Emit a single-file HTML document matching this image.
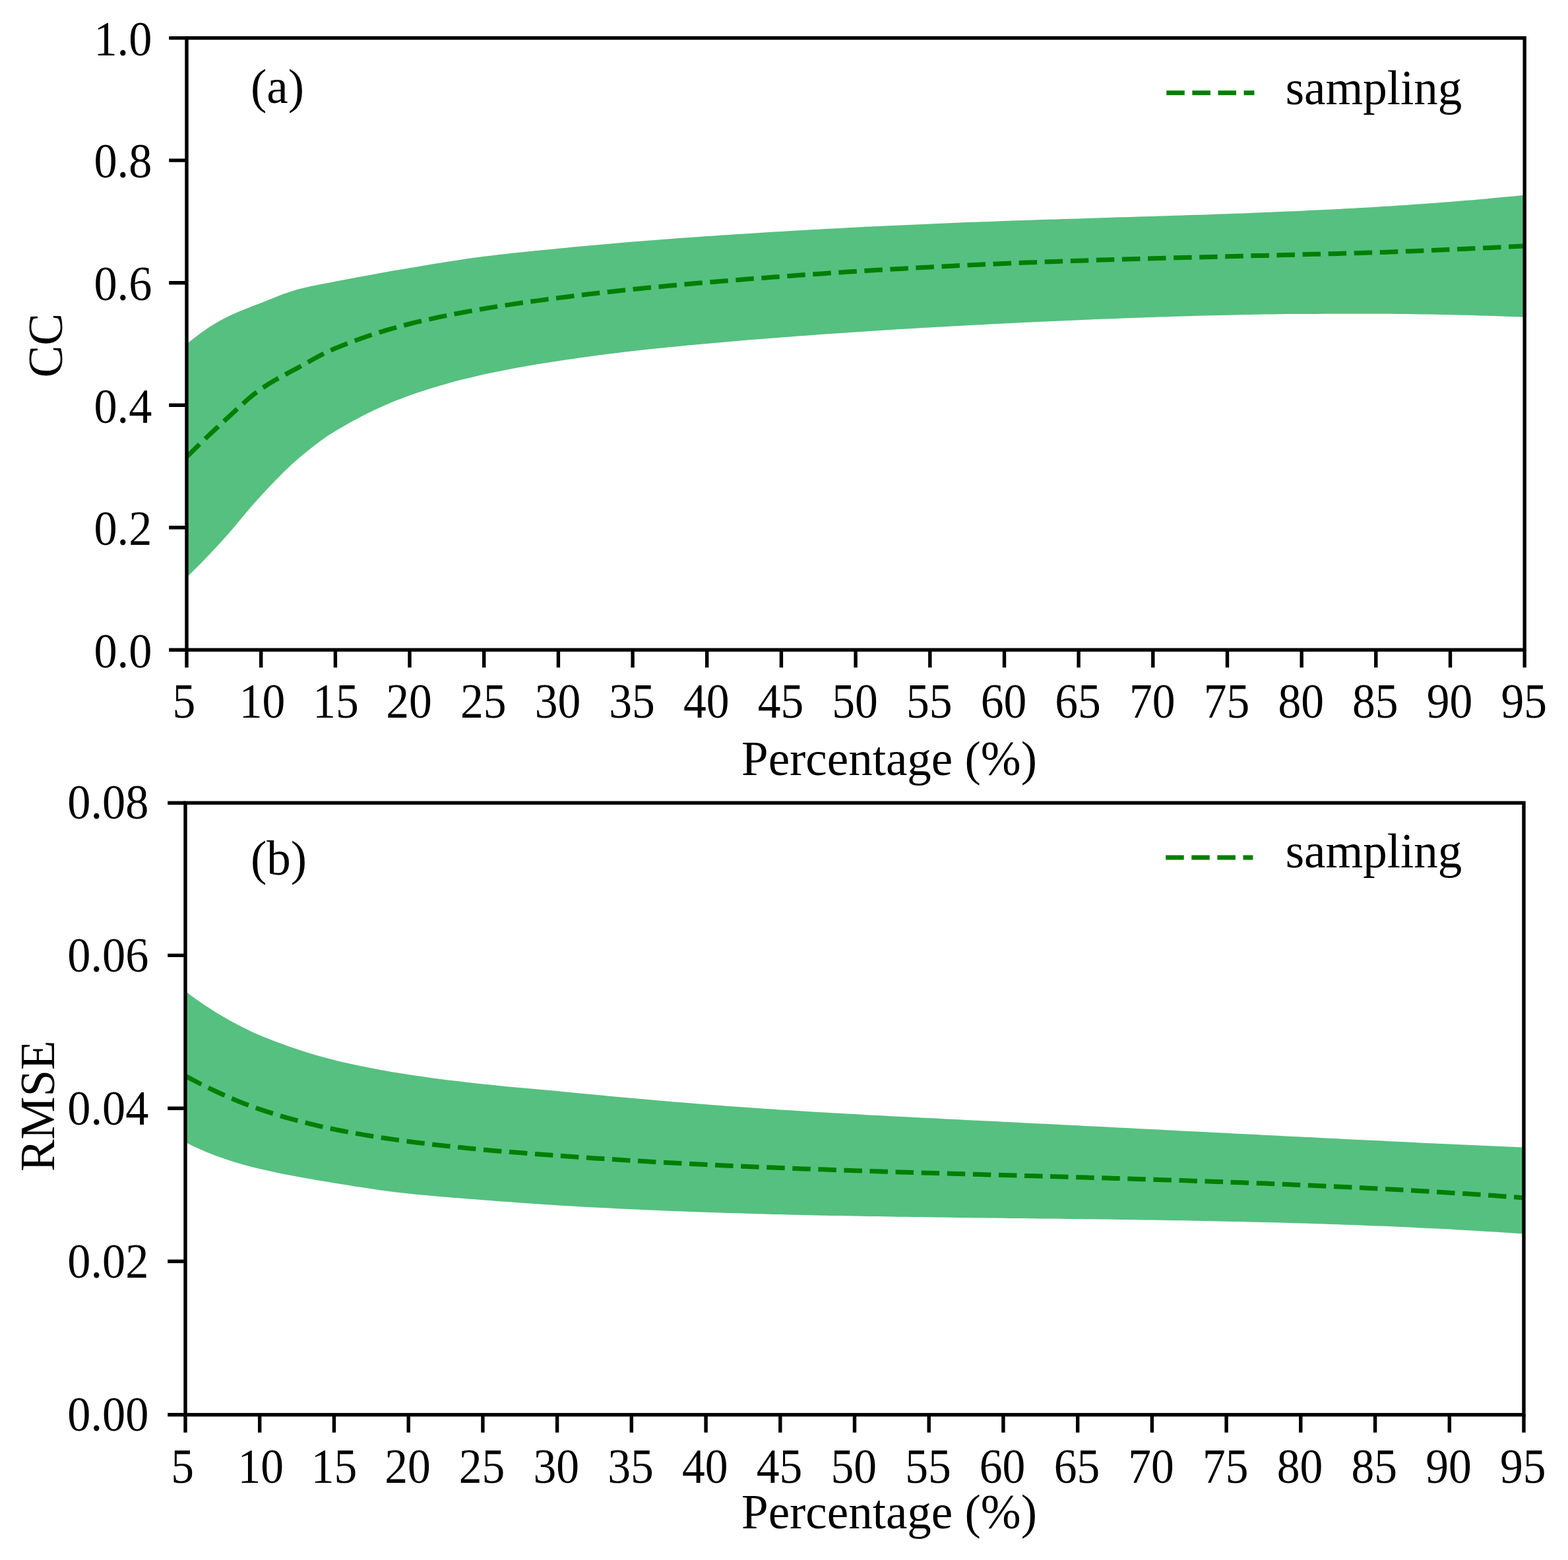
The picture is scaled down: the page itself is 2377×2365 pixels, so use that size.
<!DOCTYPE html>
<html lang="en">
<head>
<meta charset="utf-8">
<title>Sampling percentage vs CC and RMSE</title>
<style>
html,body{margin:0;padding:0;background:#fff;width:2377px;height:2365px;overflow:hidden}
svg{display:block;position:absolute;left:0;top:0}
text{font-family:"Liberation Serif", "DejaVu Serif", serif;fill:#000}
</style>
</head>
<body>
<svg xmlns="http://www.w3.org/2000/svg" width="2377" height="2365" viewBox="0 0 2377 2365">
<rect width="2377" height="2365" fill="#fff"/>
<clipPath id="c1"><rect x="283" y="57.6" width="2028.2" height="927.6"/></clipPath>
<g clip-path="url(#c1)">
<polygon fill="#56c080" points="283,521.4 294.3,512.5 305.5,504.1 316.8,496.3 328.1,489.2 339.3,482.9 350.6,477.4 361.9,472.5 373.1,467.9 384.4,463.6 395.7,459.2 406.9,454.7 418.2,450.2 429.5,445.8 440.7,441.9 452,438.5 463.3,435.7 474.6,433.3 485.8,431.1 497.1,428.9 508.4,426.8 519.6,424.6 530.9,422.5 542.2,420.3 553.4,418.2 564.7,416.2 576,414.1 587.2,412.1 598.5,410.1 609.8,408.2 621,406.3 632.3,404.4 643.6,402.5 654.8,400.6 666.1,398.8 677.4,396.9 688.6,395.2 699.9,393.5 711.2,391.8 722.4,390.2 733.7,388.8 745,387.4 756.2,386.1 767.5,384.8 778.8,383.6 790,382.4 801.3,381.2 812.6,380.1 823.9,379 835.1,377.9 846.4,376.8 857.7,375.7 868.9,374.6 880.2,373.6 891.5,372.5 902.7,371.5 914,370.4 925.3,369.4 936.5,368.5 947.8,367.5 959.1,366.6 970.3,365.7 981.6,364.8 992.9,363.9 1004.1,363 1015.4,362.2 1026.7,361.3 1037.9,360.5 1049.2,359.7 1060.5,358.9 1071.7,358.1 1083,357.4 1094.3,356.6 1105.5,355.9 1116.8,355.1 1128.1,354.4 1139.4,353.7 1150.6,353 1161.9,352.3 1173.2,351.6 1184.4,350.9 1195.7,350.2 1207,349.6 1218.2,348.9 1229.5,348.3 1240.8,347.7 1252,347.1 1263.3,346.5 1274.6,345.9 1285.8,345.3 1297.1,344.7 1308.4,344.1 1319.6,343.6 1330.9,343 1342.2,342.5 1353.4,342 1364.7,341.4 1376,340.9 1387.2,340.4 1398.5,339.9 1409.8,339.4 1421,339 1432.3,338.5 1443.6,338 1454.8,337.6 1466.1,337.1 1477.4,336.7 1488.7,336.3 1499.9,335.9 1511.2,335.5 1522.5,335 1533.7,334.6 1545,334.3 1556.3,333.9 1567.5,333.5 1578.8,333.1 1590.1,332.8 1601.3,332.4 1612.6,332.1 1623.9,331.7 1635.1,331.4 1646.4,331 1657.7,330.7 1668.9,330.3 1680.2,330 1691.5,329.6 1702.7,329.3 1714,329 1725.3,328.6 1736.5,328.3 1747.8,327.9 1759.1,327.6 1770.3,327.2 1781.6,326.8 1792.9,326.5 1804.1,326.1 1815.4,325.8 1826.7,325.4 1838,325 1849.2,324.6 1860.5,324.2 1871.8,323.8 1883,323.4 1894.3,322.9 1905.6,322.5 1916.8,322.1 1928.1,321.6 1939.4,321.1 1950.6,320.6 1961.9,320.2 1973.2,319.7 1984.4,319.1 1995.7,318.6 2007,318 2018.2,317.5 2029.5,316.9 2040.8,316.3 2052,315.7 2063.3,315.1 2074.6,314.4 2085.8,313.8 2097.1,313.1 2108.4,312.4 2119.6,311.6 2130.9,310.9 2142.2,310.1 2153.5,309.3 2164.7,308.5 2176,307.7 2187.3,306.8 2198.5,306 2209.8,305.1 2221.1,304.1 2232.3,303.2 2243.6,302.2 2254.9,301.2 2266.1,300.1 2277.4,299.1 2288.7,298 2299.9,296.9 2311.2,295.8 2311.2,480.8 2299.9,480.3 2288.7,479.9 2277.4,479.5 2266.1,479.1 2254.9,478.7 2243.6,478.4 2232.3,478.1 2221.1,477.8 2209.8,477.5 2198.5,477.3 2187.3,477 2176,476.8 2164.7,476.6 2153.5,476.4 2142.2,476.2 2130.9,476.1 2119.6,475.9 2108.4,475.8 2097.1,475.7 2085.8,475.7 2074.6,475.7 2063.3,475.7 2052,475.7 2040.8,475.8 2029.5,475.8 2018.2,475.8 2007,475.8 1995.7,475.9 1984.4,475.9 1973.2,476 1961.9,476 1950.6,476.1 1939.4,476.3 1928.1,476.4 1916.8,476.6 1905.6,476.8 1894.3,477.1 1883,477.3 1871.8,477.5 1860.5,477.7 1849.2,478 1838,478.3 1826.7,478.5 1815.4,478.8 1804.1,479.2 1792.9,479.5 1781.6,479.8 1770.3,480.2 1759.1,480.5 1747.8,480.9 1736.5,481.3 1725.3,481.7 1714,482.1 1702.7,482.5 1691.5,482.9 1680.2,483.4 1668.9,483.8 1657.7,484.3 1646.4,484.7 1635.1,485.2 1623.9,485.7 1612.6,486.2 1601.3,486.7 1590.1,487.2 1578.8,487.7 1567.5,488.2 1556.3,488.8 1545,489.3 1533.7,489.9 1522.5,490.4 1511.2,491 1499.9,491.6 1488.7,492.2 1477.4,492.7 1466.1,493.3 1454.8,493.9 1443.6,494.6 1432.3,495.2 1421,495.8 1409.8,496.5 1398.5,497.1 1387.2,497.8 1376,498.4 1364.7,499.1 1353.4,499.8 1342.2,500.5 1330.9,501.2 1319.6,502 1308.4,502.7 1297.1,503.4 1285.8,504.2 1274.6,505 1263.3,505.7 1252,506.5 1240.8,507.3 1229.5,508.2 1218.2,509 1207,509.8 1195.7,510.7 1184.4,511.5 1173.2,512.4 1161.9,513.3 1150.6,514.2 1139.4,515.1 1128.1,516.1 1116.8,517 1105.5,518 1094.3,519 1083,520 1071.7,521 1060.5,522 1049.2,523.1 1037.9,524.1 1026.7,525.2 1015.4,526.3 1004.1,527.5 992.9,528.6 981.6,529.8 970.3,531 959.1,532.3 947.8,533.6 936.5,535 925.3,536.3 914,537.8 902.7,539.2 891.5,540.8 880.2,542.3 868.9,543.9 857.7,545.6 846.4,547.3 835.1,549 823.9,550.8 812.6,552.6 801.3,554.5 790,556.5 778.8,558.5 767.5,560.7 756.2,562.9 745,565.2 733.7,567.6 722.4,570.2 711.2,572.9 699.9,575.6 688.6,578.6 677.4,581.7 666.1,584.9 654.8,588.3 643.6,591.9 632.3,595.6 621,599.5 609.8,603.7 598.5,608.1 587.2,612.8 576,617.8 564.7,623.1 553.4,628.6 542.2,634.5 530.9,640.5 519.6,646.9 508.4,653.5 497.1,660.6 485.8,668.5 474.6,677 463.3,686.1 452,695.5 440.7,705.5 429.5,716.3 418.2,727.7 406.9,739.5 395.7,751.5 384.4,764.1 373.1,777.3 361.9,790.8 350.6,804.2 339.3,817 328.1,829.2 316.8,841.2 305.5,852.9 294.3,864.3 283,875.4"/>
<polyline fill="none" stroke="#008000" stroke-width="7.0" stroke-dasharray="27.5 11.6" stroke-dashoffset="0" points="283,692.7 294.3,681.5 305.5,670.5 316.8,659.7 328.1,649.1 339.3,638.7 350.6,628.3 361.9,617.8 373.1,607.6 384.4,598.1 395.7,589.7 406.9,582.3 418.2,575.6 429.5,569.4 440.7,563.4 452,557.3 463.3,551.1 474.6,544.8 485.8,538.7 497.1,533 508.4,528 519.6,523.5 530.9,519.1 542.2,515 553.4,511 564.7,507.2 576,503.6 587.2,500.2 598.5,497 609.8,493.9 621,491 632.3,488.2 643.6,485.6 654.8,483.1 666.1,480.7 677.4,478.4 688.6,476.1 699.9,474 711.2,471.9 722.4,469.9 733.7,468 745,466.1 756.2,464.3 767.5,462.6 778.8,460.9 790,459.2 801.3,457.6 812.6,456.1 823.9,454.6 835.1,453.1 846.4,451.6 857.7,450.2 868.9,448.8 880.2,447.4 891.5,446 902.7,444.7 914,443.4 925.3,442.2 936.5,441 947.8,439.8 959.1,438.6 970.3,437.4 981.6,436.3 992.9,435.2 1004.1,434.2 1015.4,433.1 1026.7,432.1 1037.9,431.1 1049.2,430.1 1060.5,429.1 1071.7,428.1 1083,427.2 1094.3,426.2 1105.5,425.3 1116.8,424.4 1128.1,423.5 1139.4,422.6 1150.6,421.7 1161.9,420.9 1173.2,420 1184.4,419.2 1195.7,418.4 1207,417.5 1218.2,416.7 1229.5,415.9 1240.8,415.2 1252,414.4 1263.3,413.6 1274.6,412.9 1285.8,412.1 1297.1,411.4 1308.4,410.7 1319.6,410 1330.9,409.3 1342.2,408.7 1353.4,408 1364.7,407.4 1376,406.7 1387.2,406.1 1398.5,405.5 1409.8,404.9 1421,404.3 1432.3,403.7 1443.6,403.2 1454.8,402.6 1466.1,402.1 1477.4,401.5 1488.7,401 1499.9,400.5 1511.2,400 1522.5,399.5 1533.7,399 1545,398.6 1556.3,398.1 1567.5,397.7 1578.8,397.3 1590.1,396.8 1601.3,396.4 1612.6,396 1623.9,395.6 1635.1,395.2 1646.4,394.9 1657.7,394.5 1668.9,394.1 1680.2,393.8 1691.5,393.4 1702.7,393.1 1714,392.8 1725.3,392.4 1736.5,392.1 1747.8,391.8 1759.1,391.5 1770.3,391.1 1781.6,390.8 1792.9,390.5 1804.1,390.2 1815.4,390 1826.7,389.7 1838,389.4 1849.2,389.1 1860.5,388.8 1871.8,388.5 1883,388.2 1894.3,387.9 1905.6,387.6 1916.8,387.4 1928.1,387.1 1939.4,386.8 1950.6,386.5 1961.9,386.2 1973.2,385.9 1984.4,385.6 1995.7,385.3 2007,385 2018.2,384.7 2029.5,384.4 2040.8,384.1 2052,383.8 2063.3,383.5 2074.6,383.1 2085.8,382.8 2097.1,382.4 2108.4,382 2119.6,381.6 2130.9,381.1 2142.2,380.7 2153.5,380.2 2164.7,379.8 2176,379.3 2187.3,378.8 2198.5,378.3 2209.8,377.8 2221.1,377.3 2232.3,376.8 2243.6,376.3 2254.9,375.8 2266.1,375.2 2277.4,374.7 2288.7,374.1 2299.9,373.6 2311.2,373"/>
</g>
<path d="M283 985.2V1012M395.7 985.2V1012M508.4 985.2V1012M621 985.2V1012M733.7 985.2V1012M846.4 985.2V1012M959.1 985.2V1012M1071.7 985.2V1012M1184.4 985.2V1012M1297.1 985.2V1012M1409.8 985.2V1012M1522.5 985.2V1012M1635.1 985.2V1012M1747.8 985.2V1012M1860.5 985.2V1012M1973.2 985.2V1012M2085.8 985.2V1012M2198.5 985.2V1012M2311.2 985.2V1012M283 985.2H256.2M283 799.7H256.2M283 614.2H256.2M283 428.7H256.2M283 243.1H256.2M283 57.6H256.2" fill="none" stroke="#000" stroke-width="5.4"/>
<rect x="283" y="57.6" width="2028.2" height="927.6" fill="none" stroke="#000" stroke-width="5.4"/>
<g font-size="74" text-anchor="middle">
<text transform="translate(279 1088) scale(0.94 1)">5</text>
<text transform="translate(397.5 1088) scale(0.94 1)">10</text>
<text transform="translate(508.9 1088) scale(0.94 1)">15</text>
<text transform="translate(620 1088) scale(0.94 1)">20</text>
<text transform="translate(732.7 1088) scale(0.94 1)">25</text>
<text transform="translate(845.4 1088) scale(0.94 1)">30</text>
<text transform="translate(958.1 1088) scale(0.94 1)">35</text>
<text transform="translate(1070.7 1088) scale(0.94 1)">40</text>
<text transform="translate(1183.4 1088) scale(0.94 1)">45</text>
<text transform="translate(1296.1 1088) scale(0.94 1)">50</text>
<text transform="translate(1408.8 1088) scale(0.94 1)">55</text>
<text transform="translate(1521.5 1088) scale(0.94 1)">60</text>
<text transform="translate(1634.1 1088) scale(0.94 1)">65</text>
<text transform="translate(1746.8 1088) scale(0.94 1)">70</text>
<text transform="translate(1859.5 1088) scale(0.94 1)">75</text>
<text transform="translate(1972.2 1088) scale(0.94 1)">80</text>
<text transform="translate(2084.8 1088) scale(0.94 1)">85</text>
<text transform="translate(2197.5 1088) scale(0.94 1)">90</text>
<text transform="translate(2310.2 1088) scale(0.94 1)">95</text>
</g>
<g font-size="74" text-anchor="end">
<text transform="translate(230.3 1011.5) scale(0.95 1)">0.0</text>
<text transform="translate(230.3 826) scale(0.95 1)">0.2</text>
<text transform="translate(230.3 640.5) scale(0.95 1)">0.4</text>
<text transform="translate(230.3 455) scale(0.95 1)">0.6</text>
<text transform="translate(230.3 269.4) scale(0.95 1)">0.8</text>
<text transform="translate(230.3 83.9) scale(0.95 1)">1.0</text>
</g>
<text x="1348" y="1174.7" font-size="73" text-anchor="middle">Percentage (%)</text>
<text transform="translate(94 523.7) rotate(-90)" font-size="73" text-anchor="middle">CC</text>
<text x="380" y="156" font-size="73">(a)</text>
<path d="M1768.3 140.7H1901.5" fill="none" stroke="#008000" stroke-width="7.0" stroke-dasharray="27.5 11.6"/>
<text x="1948.7" y="157.6" font-size="73">sampling</text>
<clipPath id="c2"><rect x="281" y="1217.2" width="2029" height="927.6"/></clipPath>
<g clip-path="url(#c2)">
<polygon fill="#56c080" points="281,1502.8 292.3,1511.2 303.5,1519.2 314.8,1526.8 326.1,1534 337.4,1540.8 348.6,1547.2 359.9,1553.3 371.2,1559.1 382.4,1564.5 393.7,1569.4 405,1574 416.3,1578.4 427.5,1582.6 438.8,1586.7 450.1,1590.5 461.4,1594.2 472.6,1597.7 483.9,1601 495.2,1604.1 506.4,1607 517.7,1609.7 529,1612.3 540.3,1614.7 551.5,1617.1 562.8,1619.3 574.1,1621.4 585.4,1623.4 596.6,1625.4 607.9,1627.2 619.2,1629 630.4,1630.7 641.7,1632.3 653,1633.9 664.3,1635.4 675.5,1636.9 686.8,1638.2 698.1,1639.6 709.3,1640.9 720.6,1642.2 731.9,1643.4 743.2,1644.6 754.4,1645.8 765.7,1646.9 777,1647.9 788.2,1649 799.5,1650 810.8,1651 822.1,1652 833.3,1653.1 844.6,1654.1 855.9,1655.2 867.2,1656.3 878.4,1657.4 889.7,1658.4 901,1659.5 912.2,1660.6 923.5,1661.7 934.8,1662.7 946.1,1663.7 957.3,1664.8 968.6,1665.8 979.9,1666.8 991.1,1667.8 1002.4,1668.8 1013.7,1669.7 1025,1670.7 1036.2,1671.6 1047.5,1672.6 1058.8,1673.5 1070.1,1674.3 1081.3,1675.2 1092.6,1676.1 1103.9,1676.9 1115.1,1677.7 1126.4,1678.5 1137.7,1679.3 1149,1680.1 1160.2,1680.9 1171.5,1681.6 1182.8,1682.4 1194,1683.1 1205.3,1683.8 1216.6,1684.5 1227.9,1685.2 1239.1,1685.9 1250.4,1686.5 1261.7,1687.2 1273,1687.8 1284.2,1688.5 1295.5,1689.1 1306.8,1689.7 1318,1690.4 1329.3,1691 1340.6,1691.6 1351.9,1692.2 1363.1,1692.7 1374.4,1693.3 1385.7,1693.9 1397,1694.5 1408.2,1695.1 1419.5,1695.6 1430.8,1696.2 1442,1696.8 1453.3,1697.3 1464.6,1697.9 1475.9,1698.4 1487.1,1699 1498.4,1699.6 1509.7,1700.1 1520.9,1700.7 1532.2,1701.2 1543.5,1701.8 1554.8,1702.4 1566,1702.9 1577.3,1703.5 1588.6,1704.1 1599.8,1704.6 1611.1,1705.2 1622.4,1705.8 1633.7,1706.3 1644.9,1706.9 1656.2,1707.5 1667.5,1708 1678.8,1708.6 1690,1709.2 1701.3,1709.8 1712.6,1710.3 1723.8,1710.9 1735.1,1711.5 1746.4,1712.1 1757.7,1712.6 1768.9,1713.2 1780.2,1713.8 1791.5,1714.4 1802.8,1714.9 1814,1715.5 1825.3,1716.1 1836.6,1716.7 1847.8,1717.2 1859.1,1717.8 1870.4,1718.4 1881.7,1719 1892.9,1719.5 1904.2,1720.1 1915.5,1720.7 1926.7,1721.2 1938,1721.8 1949.3,1722.4 1960.6,1722.9 1971.8,1723.5 1983.1,1724.1 1994.4,1724.6 2005.7,1725.2 2016.9,1725.8 2028.2,1726.3 2039.5,1726.9 2050.7,1727.4 2062,1728 2073.3,1728.5 2084.6,1729.1 2095.8,1729.6 2107.1,1730.2 2118.4,1730.7 2129.6,1731.3 2140.9,1731.8 2152.2,1732.4 2163.5,1732.9 2174.7,1733.4 2186,1734 2197.3,1734.5 2208.6,1735 2219.8,1735.5 2231.1,1736.1 2242.4,1736.6 2253.6,1737.1 2264.9,1737.6 2276.2,1738.1 2287.5,1738.6 2298.7,1739.1 2310,1739.6 2310,1870.5 2298.7,1869.8 2287.5,1869 2276.2,1868.3 2264.9,1867.6 2253.6,1866.9 2242.4,1866.2 2231.1,1865.5 2219.8,1864.9 2208.6,1864.2 2197.3,1863.6 2186,1863 2174.7,1862.5 2163.5,1861.9 2152.2,1861.4 2140.9,1860.8 2129.6,1860.3 2118.4,1859.8 2107.1,1859.3 2095.8,1858.8 2084.6,1858.4 2073.3,1857.9 2062,1857.5 2050.7,1857.1 2039.5,1856.7 2028.2,1856.3 2016.9,1855.9 2005.7,1855.5 1994.4,1855.2 1983.1,1854.8 1971.8,1854.5 1960.6,1854.2 1949.3,1853.8 1938,1853.5 1926.7,1853.2 1915.5,1853 1904.2,1852.7 1892.9,1852.4 1881.7,1852.1 1870.4,1851.9 1859.1,1851.7 1847.8,1851.4 1836.6,1851.2 1825.3,1851 1814,1850.8 1802.8,1850.5 1791.5,1850.3 1780.2,1850.2 1768.9,1850 1757.7,1849.8 1746.4,1849.6 1735.1,1849.4 1723.8,1849.3 1712.6,1849.1 1701.3,1848.9 1690,1848.8 1678.8,1848.6 1667.5,1848.5 1656.2,1848.3 1644.9,1848.2 1633.7,1848.1 1622.4,1847.9 1611.1,1847.8 1599.8,1847.6 1588.6,1847.5 1577.3,1847.4 1566,1847.2 1554.8,1847.1 1543.5,1847 1532.2,1846.9 1520.9,1846.7 1509.7,1846.6 1498.4,1846.4 1487.1,1846.3 1475.9,1846.2 1464.6,1846 1453.3,1845.9 1442,1845.8 1430.8,1845.6 1419.5,1845.5 1408.2,1845.3 1397,1845.1 1385.7,1845 1374.4,1844.8 1363.1,1844.7 1351.9,1844.5 1340.6,1844.3 1329.3,1844.1 1318,1843.9 1306.8,1843.7 1295.5,1843.5 1284.2,1843.3 1273,1843.1 1261.7,1842.9 1250.4,1842.7 1239.1,1842.4 1227.9,1842.2 1216.6,1841.9 1205.3,1841.7 1194,1841.4 1182.8,1841.1 1171.5,1840.9 1160.2,1840.6 1149,1840.3 1137.7,1839.9 1126.4,1839.6 1115.1,1839.3 1103.9,1838.9 1092.6,1838.6 1081.3,1838.2 1070.1,1837.8 1058.8,1837.4 1047.5,1837 1036.2,1836.6 1025,1836.2 1013.7,1835.7 1002.4,1835.2 991.1,1834.8 979.9,1834.3 968.6,1833.8 957.3,1833.3 946.1,1832.7 934.8,1832.2 923.5,1831.6 912.2,1831.1 901,1830.5 889.7,1829.9 878.4,1829.2 867.2,1828.6 855.9,1827.9 844.6,1827.2 833.3,1826.5 822.1,1825.8 810.8,1825 799.5,1824.3 788.2,1823.5 777,1822.6 765.7,1821.8 754.4,1821 743.2,1820.1 731.9,1819.2 720.6,1818.3 709.3,1817.5 698.1,1816.6 686.8,1815.7 675.5,1814.8 664.3,1813.8 653,1812.8 641.7,1811.8 630.4,1810.7 619.2,1809.5 607.9,1808.2 596.6,1806.9 585.4,1805.4 574.1,1803.9 562.8,1802.3 551.5,1800.6 540.3,1798.9 529,1797.1 517.7,1795.3 506.4,1793.5 495.2,1791.6 483.9,1789.8 472.6,1787.8 461.4,1785.8 450.1,1783.8 438.8,1781.6 427.5,1779.4 416.3,1777 405,1774.6 393.7,1772 382.4,1769.2 371.2,1766.3 359.9,1763 348.6,1759.5 337.4,1755.8 326.1,1751.7 314.8,1747.2 303.5,1742.4 292.3,1737.2 281,1731.7"/>
<polyline fill="none" stroke="#008000" stroke-width="7.0" stroke-dasharray="27.5 11.6" stroke-dashoffset="0" points="281,1631.2 292.3,1637.2 303.5,1643 314.8,1648.6 326.1,1654 337.4,1659.2 348.6,1664.2 359.9,1668.9 371.2,1673.4 382.4,1677.7 393.7,1681.6 405,1685.3 416.3,1688.9 427.5,1692.3 438.8,1695.6 450.1,1698.7 461.4,1701.6 472.6,1704.4 483.9,1707.1 495.2,1709.6 506.4,1712 517.7,1714.2 529,1716.4 540.3,1718.4 551.5,1720.4 562.8,1722.3 574.1,1724.1 585.4,1725.8 596.6,1727.4 607.9,1729 619.2,1730.5 630.4,1732 641.7,1733.3 653,1734.7 664.3,1736 675.5,1737.2 686.8,1738.4 698.1,1739.6 709.3,1740.7 720.6,1741.8 731.9,1742.8 743.2,1743.9 754.4,1744.9 765.7,1745.8 777,1746.7 788.2,1747.6 799.5,1748.5 810.8,1749.4 822.1,1750.2 833.3,1751.1 844.6,1751.9 855.9,1752.7 867.2,1753.5 878.4,1754.3 889.7,1755.1 901,1755.9 912.2,1756.6 923.5,1757.3 934.8,1758.1 946.1,1758.8 957.3,1759.5 968.6,1760.1 979.9,1760.8 991.1,1761.4 1002.4,1762.1 1013.7,1762.7 1025,1763.3 1036.2,1763.9 1047.5,1764.5 1058.8,1765 1070.1,1765.6 1081.3,1766.1 1092.6,1766.7 1103.9,1767.2 1115.1,1767.7 1126.4,1768.2 1137.7,1768.7 1149,1769.2 1160.2,1769.7 1171.5,1770.1 1182.8,1770.6 1194,1771 1205.3,1771.5 1216.6,1771.9 1227.9,1772.3 1239.1,1772.7 1250.4,1773.1 1261.7,1773.5 1273,1773.9 1284.2,1774.3 1295.5,1774.7 1306.8,1775.1 1318,1775.5 1329.3,1775.8 1340.6,1776.2 1351.9,1776.5 1363.1,1776.9 1374.4,1777.2 1385.7,1777.6 1397,1777.9 1408.2,1778.3 1419.5,1778.6 1430.8,1778.9 1442,1779.2 1453.3,1779.6 1464.6,1779.9 1475.9,1780.2 1487.1,1780.5 1498.4,1780.9 1509.7,1781.2 1520.9,1781.5 1532.2,1781.8 1543.5,1782.1 1554.8,1782.5 1566,1782.8 1577.3,1783.1 1588.6,1783.4 1599.8,1783.7 1611.1,1784.1 1622.4,1784.4 1633.7,1784.7 1644.9,1785 1656.2,1785.4 1667.5,1785.7 1678.8,1786 1690,1786.4 1701.3,1786.7 1712.6,1787.1 1723.8,1787.4 1735.1,1787.8 1746.4,1788.1 1757.7,1788.5 1768.9,1788.9 1780.2,1789.2 1791.5,1789.6 1802.8,1790 1814,1790.4 1825.3,1790.8 1836.6,1791.2 1847.8,1791.6 1859.1,1792 1870.4,1792.4 1881.7,1792.8 1892.9,1793.2 1904.2,1793.7 1915.5,1794.1 1926.7,1794.6 1938,1795 1949.3,1795.5 1960.6,1796 1971.8,1796.5 1983.1,1796.9 1994.4,1797.4 2005.7,1798 2016.9,1798.5 2028.2,1799 2039.5,1799.5 2050.7,1800.1 2062,1800.6 2073.3,1801.2 2084.6,1801.8 2095.8,1802.4 2107.1,1803 2118.4,1803.6 2129.6,1804.2 2140.9,1804.8 2152.2,1805.5 2163.5,1806.1 2174.7,1806.8 2186,1807.5 2197.3,1808.2 2208.6,1808.9 2219.8,1809.6 2231.1,1810.3 2242.4,1811.1 2253.6,1811.9 2264.9,1812.6 2276.2,1813.4 2287.5,1814.2 2298.7,1815 2310,1815.9"/>
</g>
<path d="M281 2144.8V2171.7M393.7 2144.8V2171.7M506.4 2144.8V2171.7M619.2 2144.8V2171.7M731.9 2144.8V2171.7M844.6 2144.8V2171.7M957.3 2144.8V2171.7M1070.1 2144.8V2171.7M1182.8 2144.8V2171.7M1295.5 2144.8V2171.7M1408.2 2144.8V2171.7M1520.9 2144.8V2171.7M1633.7 2144.8V2171.7M1746.4 2144.8V2171.7M1859.1 2144.8V2171.7M1971.8 2144.8V2171.7M2084.6 2144.8V2171.7M2197.3 2144.8V2171.7M2310 2144.8V2171.7M281 2144.8H254.2M281 1912.2H254.2M281 1680.3H254.2M281 1448.4H254.2M281 1217.2H254.2" fill="none" stroke="#000" stroke-width="5.4"/>
<rect x="281" y="1217.2" width="2029" height="927.6" fill="none" stroke="#000" stroke-width="5.4"/>
<g font-size="74" text-anchor="middle">
<text transform="translate(276.7 2247.7) scale(0.94 1)">5</text>
<text transform="translate(395.2 2247.7) scale(0.94 1)">10</text>
<text transform="translate(506.6 2247.7) scale(0.94 1)">15</text>
<text transform="translate(617.9 2247.7) scale(0.94 1)">20</text>
<text transform="translate(730.6 2247.7) scale(0.94 1)">25</text>
<text transform="translate(843.3 2247.7) scale(0.94 1)">30</text>
<text transform="translate(956 2247.7) scale(0.94 1)">35</text>
<text transform="translate(1068.8 2247.7) scale(0.94 1)">40</text>
<text transform="translate(1181.5 2247.7) scale(0.94 1)">45</text>
<text transform="translate(1294.2 2247.7) scale(0.94 1)">50</text>
<text transform="translate(1406.9 2247.7) scale(0.94 1)">55</text>
<text transform="translate(1519.6 2247.7) scale(0.94 1)">60</text>
<text transform="translate(1632.4 2247.7) scale(0.94 1)">65</text>
<text transform="translate(1745.1 2247.7) scale(0.94 1)">70</text>
<text transform="translate(1857.8 2247.7) scale(0.94 1)">75</text>
<text transform="translate(1970.5 2247.7) scale(0.94 1)">80</text>
<text transform="translate(2083.3 2247.7) scale(0.94 1)">85</text>
<text transform="translate(2196 2247.7) scale(0.94 1)">90</text>
<text transform="translate(2308.7 2247.7) scale(0.94 1)">95</text>
</g>
<g font-size="74" text-anchor="end">
<text transform="translate(225.3 2168.8) scale(0.95 1)">0.00</text>
<text transform="translate(225.3 1936.9) scale(0.95 1)">0.02</text>
<text transform="translate(225.3 1705) scale(0.95 1)">0.04</text>
<text transform="translate(225.3 1473.1) scale(0.95 1)">0.06</text>
<text transform="translate(225.3 1241.2) scale(0.95 1)">0.08</text>
</g>
<text x="1348" y="2316.9" font-size="73" text-anchor="middle">Percentage (%)</text>
<text transform="translate(82.3 1676.7) rotate(-90)" font-size="73" text-anchor="middle">RMSE</text>
<text x="380" y="1326" font-size="73">(b)</text>
<path d="M1767.2 1300H1899.4" fill="none" stroke="#008000" stroke-width="7.0" stroke-dasharray="27.5 11.6"/>
<text x="1948.7" y="1315" font-size="73">sampling</text>
</svg>
</body>
</html>
